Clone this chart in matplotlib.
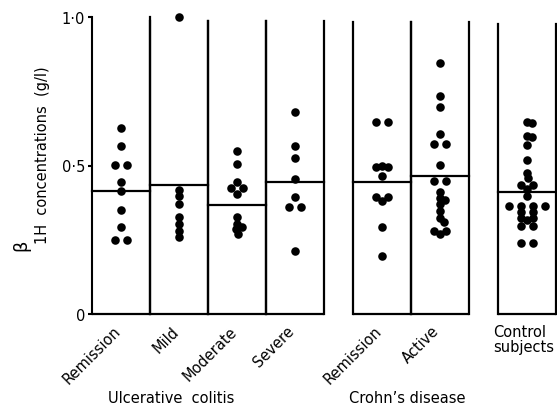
import numpy as np
import matplotlib
matplotlib.use("Agg")
import matplotlib.pyplot as plt

# beta1H concentrations (g/l)
uc_remission = [0.626, 0.567, 0.503, 0.503, 0.446, 0.413, 0.349, 0.294, 0.249, 0.249]
uc_mild = [1.0, 0.418, 0.398, 0.372, 0.326, 0.303, 0.280, 0.259]
uc_moderate = [0.550, 0.505, 0.443, 0.423, 0.423, 0.404, 0.325, 0.303, 0.294, 0.285, 0.268]
uc_severe = [0.679, 0.567, 0.524, 0.455, 0.395, 0.361, 0.361, 0.213]
cd_remission = [0.648, 0.648, 0.499, 0.494, 0.494, 0.466, 0.393, 0.393, 0.382, 0.292, 0.196]
cd_active = [0.846, 0.733, 0.698, 0.605, 0.572, 0.572, 0.502, 0.449, 0.449, 0.412,
             0.389, 0.384, 0.370, 0.348, 0.322, 0.311, 0.281, 0.281, 0.269]
control = [0.645, 0.643, 0.600, 0.596, 0.570, 0.520, 0.476, 0.458, 0.435, 0.435,
           0.420, 0.398, 0.362, 0.362, 0.362, 0.362, 0.342, 0.342, 0.322, 0.322,
           0.318, 0.297, 0.297, 0.238, 0.238]

groups = [uc_remission, uc_mild, uc_moderate, uc_severe, cd_remission, cd_active, control]
medians = [0.414, 0.434, 0.367, 0.446, 0.446, 0.465, 0.412]
labels = ["Remission", "Mild", "Moderate", "Severe", "Remission", "Active", "Control\nsubjects"]

# panel left edges (panel width = 1, gaps of 0.5 between diseases)
lefts = [0, 1, 2, 3, 4.5, 5.5, 7]
tops = [1.0, 0.985, 0.985, 0.985, 0.982, 0.982, 0.975]

W, H = 557, 406
X0, X1, Y0, Y1 = 92, 556, 315, 18
XPX = (X1 - X0) / 8.0   # px per x unit
YPX = (Y0 - Y1) / 1.0   # px per y unit


def swarm(vals, dmin=5.5, tie_gap=12.0):
    # simple dot-plot layout in pixel space; tied values sit in centred rows
    placed = []
    uniq = []
    for v in vals:
        if v not in uniq:
            uniq.append(v)
    out = []
    for v in uniq:
        k = vals.count(v)
        y = v * YPX
        if k > 1:
            xs = [(i - (k - 1) / 2) * tie_gap for i in range(k)]
        else:
            cands = [0.0]
            for px, py in placed:
                dy = abs(py - y)
                if dy < dmin:
                    dx = np.sqrt(dmin ** 2 - dy ** 2)
                    cands += [px + dx, px - dx]
            cands.sort(key=abs)
            xs = [0.0]
            for c in cands:
                if all((c - px) ** 2 + (y - py) ** 2 >= dmin ** 2 - 1e-6 for px, py in placed):
                    xs = [c]
                    break
        for x in xs:
            placed.append((x, y))
            out.append((x / XPX, v))
    return out


fig = plt.figure(figsize=(W / 100, H / 100), dpi=100)
ax = fig.add_axes([X0 / W, (H - Y0) / H, (X1 - X0) / W, (Y0 - Y1) / H])
ax.set_xlim(0, 8)
ax.set_ylim(0, 1)
for s in ["top", "right", "bottom"]:
    ax.spines[s].set_visible(False)
ax.spines["left"].set_linewidth(1.5)
ax.set_yticks([0, 0.5, 1.0])
ax.set_yticklabels(["0", "0·5", "1·0"], fontsize=10.5)
ax.tick_params(axis="y", length=3, width=1.5, pad=2)
ax.set_xticks([])

lw = 1.6
for i, vals in enumerate(groups):
    l = lefts[i]
    r = l + 1
    ax.plot([l, r], [0, 0], color="black", lw=lw, clip_on=False, solid_capstyle="butt")
    if i != 0:
        ax.plot([l, l], [0, tops[i]], color="black", lw=lw, clip_on=False)
    ax.plot([r, r], [0, tops[i]], color="black", lw=lw, clip_on=False)
    ax.plot([l, r], [medians[i], medians[i]], color="black", lw=lw, clip_on=False)
    pts = swarm(vals)
    xs = [l + 0.5 + p[0] for p in pts]
    ys = [p[1] for p in pts]
    ax.scatter(xs, ys, s=38, color="black", zorder=3, clip_on=False, linewidths=0)
    if i < 6:
        ax.text(l + 0.36, -0.03, labels[i], rotation=45, ha="right", va="top",
                rotation_mode="anchor", fontsize=10.5)
    else:
        ax.text(l - 0.08, -0.035, labels[i], ha="left", va="top", fontsize=10.5,
                linespacing=0.95)

ax.text(1.36, -0.28, "Ulcerative  colitis", ha="center", va="center", fontsize=10.5)
ax.text(5.43, -0.28, "Crohn’s disease", ha="center", va="center", fontsize=10.5)

fig.text(43 / W, 1 - 155 / H, "1H  concentrations  (g/l)", rotation=90,
         ha="center", va="center", fontsize=10.5)
fig.text(21 / W, 1 - 245 / H, "β", rotation=90, ha="center", va="center", fontsize=13)

fig.savefig("out.png", dpi=100)
